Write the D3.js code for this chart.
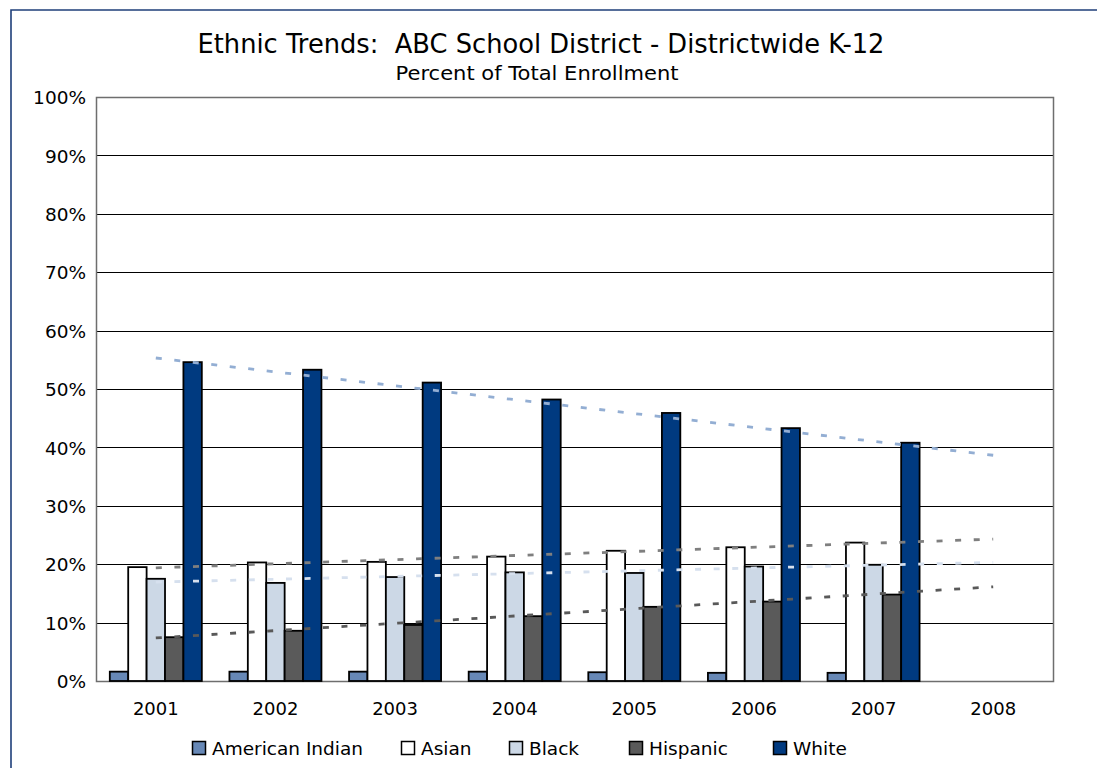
<!DOCTYPE html>
<html>
<head>
<meta charset="utf-8">
<script src="https://cdn.jsdelivr.net/npm/d3@7"></script>
<style>
  html, body { margin: 0; padding: 0; background: #fff; }
  svg { display: block; }
  text { font-family: "DejaVu Sans", Verdana, sans-serif; fill: #000; }
  .pre { white-space: pre; }
</style>
</head>
<body>
<svg id="chart" width="1097" height="768"></svg>
<script>
// ---- data ----
const years = ["2001", "2002", "2003", "2004", "2005", "2006", "2007", "2008"];
const seriesNames = ["American Indian", "Asian", "Black", "Hispanic", "White"];
const americanIndian = [1.6, 1.6, 1.6, 1.6, 1.5, 1.4, 1.4];
const asian = [19.5, 20.3, 20.4, 21.3, 22.3, 22.9, 23.7];
const black = [17.5, 16.8, 17.8, 18.6, 18.5, 19.6, 19.9];
const hispanic = [7.5, 8.6, 9.6, 11.1, 12.7, 13.6, 14.8];
const white = [54.6, 53.3, 51.1, 48.2, 45.9, 43.3, 40.8];
const yTicks = [0, 10, 20, 30, 40, 50, 60, 70, 80, 90, 100];
const trendSeries = ["White", "Asian", "Black", "Hispanic"];

// ---- styles ----
const barColors = {
  "American Indian": "#6788B6",
  "Asian": "#FFFFFF",
  "Black": "#CCD8E6",
  "Hispanic": "#5A5A5A",
  "White": "#003A80"
};
const trendColors = {
  "White": "#93AED3",
  "Asian": "#7F7F7F",
  "Black": "#D6E0EE",
  "Hispanic": "#595959"
};

const values = {
  "American Indian": americanIndian,
  "Asian": asian,
  "Black": black,
  "Hispanic": hispanic,
  "White": white
};

const svg = d3.select("#chart");
const W = 1097, H = 768;
const plot = { left: 96, right: 1053, top: 97, bottom: 681 };

// outer frame (top and left lines)
svg.append("path")
  .attr("d", `M11,${H} L11,10 L${W},10`)
  .attr("fill", "none")
  .attr("stroke", "#1F3F7A")
  .attr("stroke-width", 1.6);

// titles
svg.append("text")
  .attr("class", "pre")
  .attr("x", 541).attr("y", 53)
  .attr("text-anchor", "middle")
  .attr("font-size", 26)
  .attr("textLength", 687)
  .attr("lengthAdjust", "spacingAndGlyphs")
  .text("Ethnic Trends:  ABC School District - Districtwide K-12");
svg.append("text")
  .attr("x", 537).attr("y", 80)
  .attr("text-anchor", "middle")
  .attr("font-size", 19)
  .attr("textLength", 283)
  .attr("lengthAdjust", "spacingAndGlyphs")
  .text("Percent of Total Enrollment");

// scales
const x = d3.scaleBand().domain(years).range([plot.left, plot.right]).paddingInner(0).paddingOuter(0);
const y = d3.scaleLinear().domain([0, 100]).range([plot.bottom, plot.top]);
const groupPad = x.bandwidth() * 1.5 / 6.5 / 2;
const xs = d3.scaleBand().domain(seriesNames)
  .range([groupPad, x.bandwidth() - groupPad]).padding(0);

// gridlines
svg.append("g")
  .selectAll("line")
  .data(yTicks.filter(d => d > 0 && d < 100))
  .join("line")
  .attr("x1", plot.left).attr("x2", plot.right)
  .attr("y1", d => Math.round(y(d)) + 0.5).attr("y2", d => Math.round(y(d)) + 0.5)
  .attr("stroke", "#000").attr("stroke-width", 1);

// plot border
svg.append("rect")
  .attr("x", plot.left + 0.5).attr("y", plot.top + 0.5)
  .attr("width", plot.right - plot.left).attr("height", plot.bottom - plot.top)
  .attr("fill", "none").attr("stroke", "#6E6E6E").attr("stroke-width", 1.5);

// y axis labels
const yAxis = d3.axisLeft(y).tickValues(yTicks).tickFormat(d => d + "%").tickSize(0).tickPadding(10);
const yg = svg.append("g").attr("transform", `translate(${plot.left},0)`).call(yAxis);
yg.select(".domain").remove();
yg.selectAll("text").attr("font-size", 18.5).attr("font-family", "DejaVu Sans").attr("fill", "#000").attr("dy", "0.36em");

// x axis labels
const xAxis = d3.axisBottom(x).tickSize(0).tickPadding(21);
const xg = svg.append("g").attr("transform", `translate(0,${plot.bottom})`).call(xAxis);
xg.select(".domain").remove();
xg.selectAll("text").attr("font-size", 18).attr("font-family", "DejaVu Sans").attr("fill", "#000");

// bars
const barData = [];
seriesNames.forEach(s => {
  values[s].forEach((v, i) => barData.push({ series: s, year: years[i], value: v }));
});
svg.append("g")
  .selectAll("rect")
  .data(barData)
  .join("rect")
  .attr("x", d => x(d.year) + xs(d.series))
  .attr("width", xs.bandwidth())
  .attr("y", d => y(d.value))
  .attr("height", d => y(0) - y(d.value))
  .attr("fill", d => barColors[d.series])
  .attr("stroke", "#000")
  .attr("stroke-width", 1.8);

// linear trendlines (least squares on the category index), forecast one period to 2008
function linReg(vals) {
  const xsArr = vals.map((_, i) => i + 1);
  const mx = d3.mean(xsArr), my = d3.mean(vals);
  let num = 0, den = 0;
  vals.forEach((v, i) => { num += (xsArr[i] - mx) * (v - my); den += (xsArr[i] - mx) ** 2; });
  const slope = num / den;
  return t => my + slope * (t - mx);
}
const trendG = svg.append("g");
trendSeries.forEach(s => {
  const f = linReg(values[s]);
  const pts = [1, years.length].map(t => [x(years[t - 1]) + x.bandwidth() / 2, y(f(t))]);
  trendG.append("path")
    .attr("d", d3.line()(pts))
    .attr("fill", "none")
    .attr("stroke", trendColors[s])
    .attr("stroke-width", 2.8)
    .attr("stroke-dasharray", "6,12.6");
});

// legend
const legendX = [192, 401, 509, 629, 773];
const lg = svg.append("g");
seriesNames.forEach((s, i) => {
  lg.append("rect")
    .attr("x", legendX[i] + 0.5).attr("y", 741.5)
    .attr("width", 13).attr("height", 13)
    .attr("fill", barColors[s]).attr("stroke", "#000").attr("stroke-width", 1.5);
  lg.append("text")
    .attr("x", legendX[i] + 20).attr("y", 755)
    .attr("font-size", 18.5)
    .text(s);
});
</script>
</body>
</html>
